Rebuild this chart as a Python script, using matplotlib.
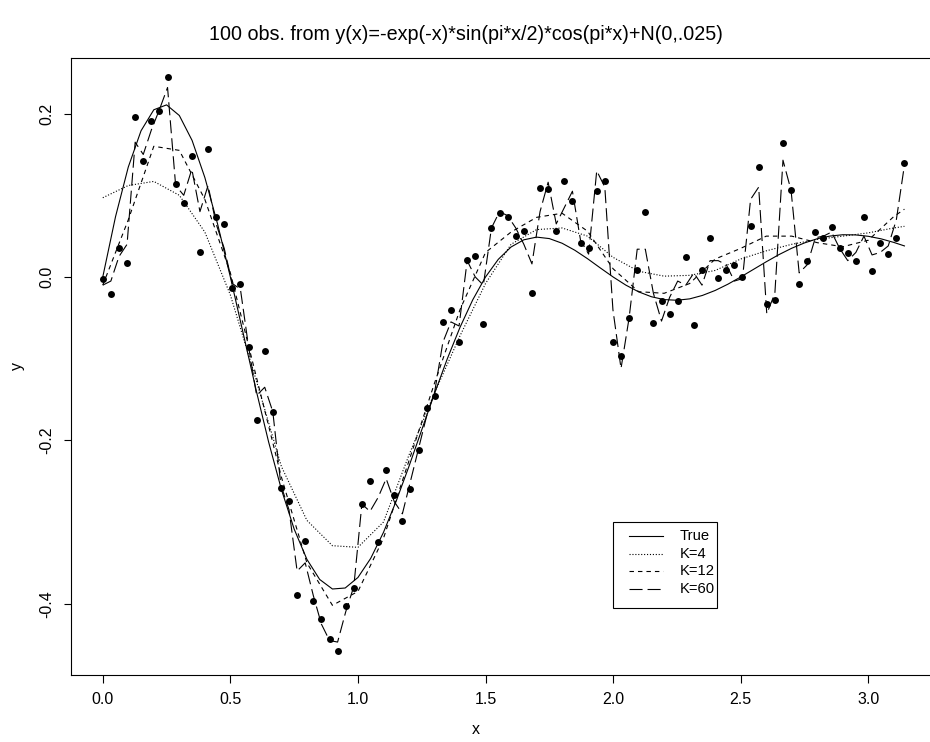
import numpy as np
import matplotlib
matplotlib.use("Agg")
import matplotlib.pyplot as plt
from matplotlib.lines import Line2D
from matplotlib.patches import Rectangle

plt.rcParams['font.family'] = ['Liberation Sans', 'DejaVu Sans']
plt.rcParams['lines.scale_dashes'] = False

# 100 equally spaced observations on [0, pi]
x_obs = np.linspace(0, np.pi, 100)
y_obs = [
    -0.002, -0.021, 0.035, 0.017, 0.196, 0.142, 0.191, 0.203, 0.245, 0.114,
    0.090, 0.148, 0.030, 0.157, 0.073, 0.065, -0.013, -0.009, -0.086, -0.175,
    -0.091, -0.165, -0.258, -0.274, -0.389, -0.323, -0.397, -0.419, -0.443, -0.458,
    -0.403, -0.381, -0.278, -0.250, -0.324, -0.236, -0.267, -0.299, -0.260, -0.212,
    -0.161, -0.146, -0.055, -0.040, -0.079, 0.021, 0.026, -0.058, 0.060, 0.078,
    0.074, 0.050, 0.056, -0.020, 0.109, 0.108, 0.056, 0.117, 0.093, 0.042,
    0.036, 0.105, 0.118, -0.080, -0.097, -0.050, 0.009, 0.079, -0.056, -0.030,
    -0.045, -0.029, 0.024, -0.059, 0.009, 0.048, -0.001, 0.009, 0.015, 0.000,
    0.063, 0.135, -0.033, -0.028, 0.164, 0.107, -0.008, 0.020, 0.055, 0.048,
    0.061, 0.036, 0.029, 0.019, 0.073, 0.007, 0.042, 0.028, 0.048, 0.139,
]

# fitted values with K=60 basis terms, at each observation
fit_k60 = [
    -0.010, -0.005, 0.025, 0.040, 0.165, 0.150, 0.180, 0.205, 0.232, 0.112,
    0.100, 0.132, 0.080, 0.112, 0.065, 0.035, -0.008, -0.015, -0.085, -0.145,
    -0.135, -0.165, -0.255, -0.285, -0.360, -0.350, -0.390, -0.425, -0.445, -0.447,
    -0.410, -0.379, -0.278, -0.287, -0.270, -0.247, -0.275, -0.290, -0.250, -0.210,
    -0.170, -0.140, -0.080, -0.055, -0.060, 0.020, 0.000, -0.010, 0.060, 0.080,
    0.075, 0.060, 0.040, 0.016, 0.080, 0.116, 0.065, 0.085, 0.105, 0.045,
    0.028, 0.130, 0.110, -0.040, -0.112, -0.050, 0.034, 0.034, -0.020, -0.054,
    -0.025, -0.005, -0.010, 0.005, -0.010, 0.020, 0.020, 0.015, -0.005, -0.002,
    0.095, 0.110, -0.045, -0.020, 0.143, 0.106, 0.005, 0.015, 0.048, 0.050,
    0.055, 0.035, 0.020, 0.030, 0.050, 0.027, 0.030, 0.038, 0.070, 0.137,
]

# true curve sampled every 0.05 up to 3.1, then at pi
x_fine = np.append(np.arange(63) * 0.05, np.pi)
true_curve = [
    0.0000, 0.0738, 0.1346, 0.1790, 0.2047, 0.2107, 0.1977, 0.1672, 0.1218, 0.0648,
    0.0000, -0.0686, -0.1372, -0.2021, -0.2601, -0.3086, -0.3457, -0.3703, -0.3820, -0.3808,
    -0.3679, -0.3445, -0.3127, -0.2743, -0.2318, -0.1872, -0.1427, -0.1003, -0.0616, -0.0279,
    0.0000, 0.0216, 0.0367, 0.0455, 0.0488, 0.0470, 0.0413, 0.0327, 0.0223, 0.0110,
    0.0000, -0.0100, -0.0182, -0.0242, -0.0277, -0.0285, -0.0268, -0.0226, -0.0165, -0.0088,
    0.0000, 0.0093, 0.0186, 0.0274, 0.0352, 0.0417, 0.0468, 0.0501, 0.0517, 0.0515,
    0.0498, 0.0467, 0.0423, 0.0380,
]

# smoother fits sampled every 0.1 up to 3.1, then at pi
x_coarse = np.append(np.arange(32) * 0.1, np.pi)
fit_k4 = [
    0.097, 0.112, 0.117, 0.100, 0.055, -0.022, -0.125, -0.232, -0.298, -0.329,
    -0.331, -0.300, -0.218, -0.142, -0.072, -0.008, 0.040, 0.058, 0.060, 0.050,
    0.024, 0.007, 0.001, 0.002, 0.008, 0.022, 0.032, 0.040, 0.046, 0.050,
    0.054, 0.060, 0.062,
]
fit_k12 = [
    -0.010, 0.070, 0.160, 0.155, 0.095, 0.005, -0.120, -0.245, -0.350, -0.402,
    -0.385, -0.320, -0.225, -0.130, -0.040, 0.030, 0.055, 0.073, 0.078, 0.056,
    0.010, -0.018, -0.020, -0.008, 0.022, 0.035, 0.050, 0.050, 0.042, 0.037,
    0.045, 0.074, 0.083,
]

legend_labels = ["True", "K=4", "K=12", "K=60"]
title_text = "100 obs. from y(x)=-exp(-x)*sin(pi*x/2)*cos(pi*x)+N(0,.025)"

W, H = 930, 742
fig = plt.figure(figsize=(W / 100, H / 100), dpi=100)
left, right, top, bottom = 70.7, 936.5, 57.5, 675.0
ax = fig.add_axes([left / W, 1 - bottom / H, (right - left) / W, (bottom - top) / H])

lw = 0.8
styles = [
    dict(linestyle="-"),
    dict(linestyle=(0, (0.8, 1.3))),
    dict(linestyle=(0, (3.2, 2.9))),
    dict(linestyle=(0, (9.4, 3.6))),
]

ax.plot(x_obs, y_obs, "o", color="black", markersize=5.0, markeredgewidth=0)
ax.plot(x_fine, true_curve, color="black", lw=lw, **styles[0])
ax.plot(x_coarse, fit_k4, color="black", lw=lw, **styles[1])
ax.plot(x_coarse, fit_k12, color="black", lw=lw, **styles[2])
ax.plot(x_obs, fit_k60, color="black", lw=lw, **styles[3])

ax.set_xlim(-0.04 * np.pi, 1.04 * np.pi)
ax.set_ylim(-0.4873, 0.2687)
ax.set_xticks([0.0, 0.5, 1.0, 1.5, 2.0, 2.5, 3.0])
ax.set_xticklabels(["0.0", "0.5", "1.0", "1.5", "2.0", "2.5", "3.0"])
ax.set_yticks([-0.4, -0.2, 0.0, 0.2])
ax.set_yticklabels(["-0.4", "-0.2", "0.0", "0.2"], rotation=90, va="center")

for s in ax.spines.values():
    s.set_linewidth(0.8)
ax.tick_params(direction="out", length=5.4, width=0.8, labelsize=11.5, pad=6.5)

fig.text(466 / W, 1 - 35 / H, title_text, ha="center", va="center", fontsize=14.2)
fig.text(476 / W, 1 - 730 / H, "x", ha="center", va="center", fontsize=11.5)
fig.text(17 / W, 1 - 366 / H, "y", ha="center", va="center", rotation=90, fontsize=11.5)

# legend box drawn in figure pixel units
def fx(px):
    return px / W

def fy(py):
    return 1 - py / H

fig.add_artist(Rectangle((fx(612.5), fy(607.5)), fx(717) - fx(612.5), fy(521.5) - fy(607.5),
                         transform=fig.transFigure, facecolor="white",
                         edgecolor="black", linewidth=0.8, zorder=5))
row_y = [536.0, 553.6, 571.2, 588.8]
for st, lab, ry in zip(styles, legend_labels, row_y):
    fig.add_artist(Line2D([fx(629), fx(663)], [fy(ry), fy(ry)], transform=fig.transFigure,
                          color="black", lw=lw, zorder=6, **st))
    fig.text(fx(680), fy(ry), lab, ha="left", va="center", fontsize=10.6, zorder=6)

fig.savefig("out.png", dpi=100)
